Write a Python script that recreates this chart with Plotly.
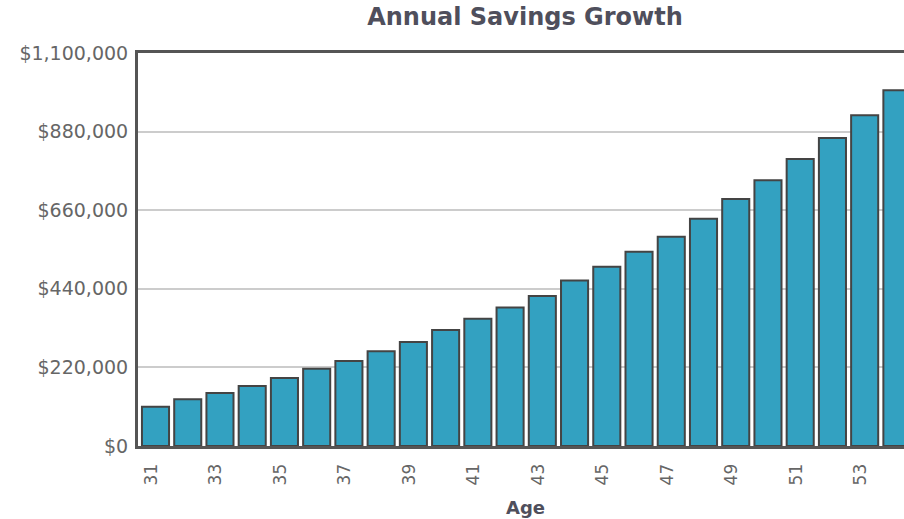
import plotly.graph_objects as go

ages = list(range(31, 55))
savings = [110000, 131000, 148000, 168000, 190000, 216000, 238000, 265000,
           291000, 325000, 356000, 388000, 420000, 463000, 502000, 544000,
           586000, 636000, 691000, 744000, 803000, 862000, 926000, 996000]
x_tick_vals = list(range(31, 54, 2))
x_tick_text = [str(v) for v in x_tick_vals]
y_tick_vals = [0, 220000, 440000, 660000, 880000, 1100000]
y_tick_text = ["$0", "$220,000", "$440,000", "$660,000", "$880,000", "$1,100,000"]

FONT = "DejaVu Sans"

fig = go.Figure()
fig.add_trace(go.Bar(
    x=ages, y=savings,
    marker=dict(color="#33a1c1", line=dict(color="#444444", width=2)),
    width=0.84,
))

fig.update_layout(
    width=904, height=519,
    margin=dict(l=138, r=0, t=53, b=73),
    plot_bgcolor="white", paper_bgcolor="white",
    showlegend=False,
    font=dict(family=FONT, color="#666666"),
    title=dict(text="<b>Annual Savings Growth</b>", x=525/904, xanchor="center",
               y=1 - 8/519, yanchor="top", yref="container",
               font=dict(family=FONT, size=24, color="#4f4f5c")),
    xaxis=dict(range=[30.457, 54.22], tickvals=x_tick_vals, ticktext=x_tick_text,
               tickangle=-90, showgrid=False, zeroline=False,
               showline=True, linecolor="#555555", linewidth=3, mirror=True,
               ticks="outside", ticklen=8, tickcolor="rgba(0,0,0,0)",
               ticklabelshift=-4,
               tickfont=dict(family=FONT, size=17, color="#666666")),
    yaxis=dict(range=[0, 1100000], tickvals=y_tick_vals, ticktext=y_tick_text,
               showgrid=True, gridcolor="#cccccc", gridwidth=1.5, zeroline=False,
               showline=True, linecolor="#555555", linewidth=3, mirror=False,
               ticks="outside", ticklen=3, tickcolor="rgba(0,0,0,0)",
               tickfont=dict(family=FONT, size=19, color="#666666")),
    annotations=[dict(text="<b>Age</b>", x=(525-138)/(904-138), y=(446-507)/393,
                      xref="paper", yref="paper", xanchor="center", yanchor="middle",
                      showarrow=False, font=dict(family=FONT, size=18, color="#4f4f5c"))],
)

fig.write_html("out.html")
